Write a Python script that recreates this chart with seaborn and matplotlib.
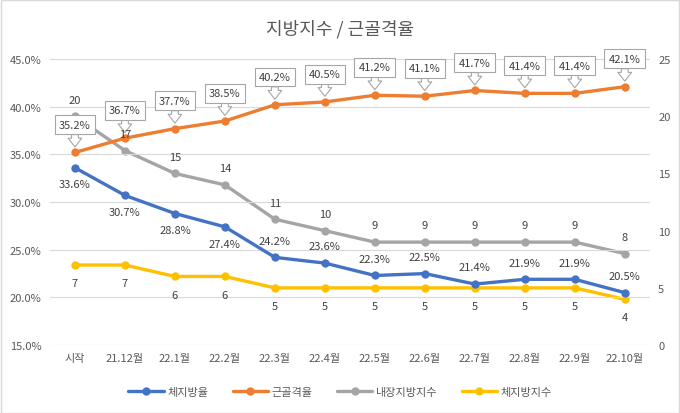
import numpy as np
import pandas as pd
import matplotlib
matplotlib.use('Agg')
import matplotlib.pyplot as plt
import seaborn as sns
from matplotlib.patches import Rectangle
from matplotlib.lines import Line2D

# 데이터
월 = ['시작', '21.12월', '22.1월', '22.2월', '22.3월', '22.4월', '22.5월', '22.6월',
     '22.7월', '22.8월', '22.9월', '22.10월']
체지방율 = [33.6, 30.7, 28.8, 27.4, 24.2, 23.6, 22.3, 22.5, 21.4, 21.9, 21.9, 20.5]
근골격율 = [35.2, 36.7, 37.7, 38.5, 40.2, 40.5, 41.2, 41.1, 41.7, 41.4, 41.4, 42.1]
내장지방지수 = [20, 17, 15, 14, 11, 10, 9, 9, 9, 9, 9, 8]
체지방지수 = [7, 7, 6, 6, 5, 5, 5, 5, 5, 5, 5, 4]

sns.set_style('white')
plt.rcParams['font.family'] = ['Noto Sans CJK KR', 'DejaVu Sans']

파랑 = '#4472c4'
주황 = '#ed7d31'
회색 = '#a5a5a5'
노랑 = '#ffc000'
글자 = '#595959'

df = pd.DataFrame({'x': np.arange(len(월)), '체지방율': 체지방율, '근골격율': 근골격율,
                   '내장지방지수': 내장지방지수, '체지방지수': 체지방지수})

fig = plt.figure(figsize=(6.8, 4.14), dpi=100)
ax = fig.add_axes([0.0735, 0.164, 0.882, 0.691])
ax2 = ax.twinx()

kw = dict(marker='o', markersize=6, markeredgewidth=0, linewidth=2.4)
sns.lineplot(data=df, x='x', y='내장지방지수', ax=ax2, color=회색, **kw)
sns.lineplot(data=df, x='x', y='체지방지수', ax=ax2, color=노랑, **kw)
sns.lineplot(data=df, x='x', y='체지방율', ax=ax, color=파랑, **kw)
sns.lineplot(data=df, x='x', y='근골격율', ax=ax, color=주황, **kw)
ax.set_zorder(ax2.get_zorder() + 1)
ax.patch.set_visible(False)

ax.set_xlim(-0.5, len(월) - 0.5)
ax.set_ylim(15, 45)
ax2.set_ylim(0, 25)
ax.set_yticks(np.arange(15, 46, 5))
ax.set_yticklabels([f'{v:.1f}%' for v in np.arange(15, 46, 5)])
ax2.set_yticks(np.arange(0, 26, 5))
ax.set_xticks(df['x'])
ax.set_xticklabels(월)
for a in (ax, ax2):
    a.set_xlabel('')
    a.set_ylabel('')
    a.tick_params(length=0, labelsize=8, colors=글자, pad=6)
    for s in a.spines.values():
        s.set_visible(False)
ax.yaxis.grid(True, color='#d9d9d9', linewidth=0.8)
ax.set_axisbelow(True)

# 데이터 레이블
lab = dict(fontsize=8, color='#404040', ha='center', va='center', textcoords='offset points')
for i in range(len(월)):
    dy = -12 if i < 4 else 12
    ax.annotate(f'{체지방율[i]:.1f}%', (i, 체지방율[i]), xytext=(0, dy), **lab)
    ax.annotate(f'{근골격율[i]:.1f}%', (i, 근골격율[i]), xytext=(0, 20), **lab, zorder=5,
                bbox=dict(boxstyle='square,pad=0.4', fc='white', ec='#a6a6a6', lw=0.8),
                arrowprops=dict(arrowstyle='simple,head_width=0.7,head_length=0.45,tail_width=0.35',
                                mutation_scale=14, fc='white', ec='#a6a6a6', lw=0.8,
                                shrinkA=0, shrinkB=4))
    # 오른쪽 축 값이지만 주황 레이블 위에 보이도록 ax에 그림
    ax.annotate(f'{내장지방지수[i]}', (i, 내장지방지수[i]), xycoords=ax2.transData,
                xytext=(0, 12), **lab, zorder=6)
    ax.annotate(f'{체지방지수[i]}', (i, 체지방지수[i]), xycoords=ax2.transData,
                xytext=(0, -13), **lab, zorder=6)

fig.text(0.5, 0.93, '지방지수 / 근골격율', ha='center', va='center', fontsize=13, color=글자)

handles = [Line2D([], [], color=c, marker='o', markersize=6, linewidth=2.4, markeredgewidth=0)
           for c in (파랑, 주황, 회색, 노랑)]
fig.legend(handles, ['체지방율', '근골격율', '내장지방지수', '체지방지수'], loc='center',
           bbox_to_anchor=(0.5, 0.05), ncol=4, frameon=False, fontsize=8,
           labelcolor=글자, handlelength=3.2, columnspacing=2.2, handletextpad=0.3)

fig.patches.append(Rectangle((0.001, 0.001), 0.997, 0.997, transform=fig.transFigure,
                             fill=False, ec='#d9d9d9', lw=1))
fig.savefig('out.png', dpi=100)
